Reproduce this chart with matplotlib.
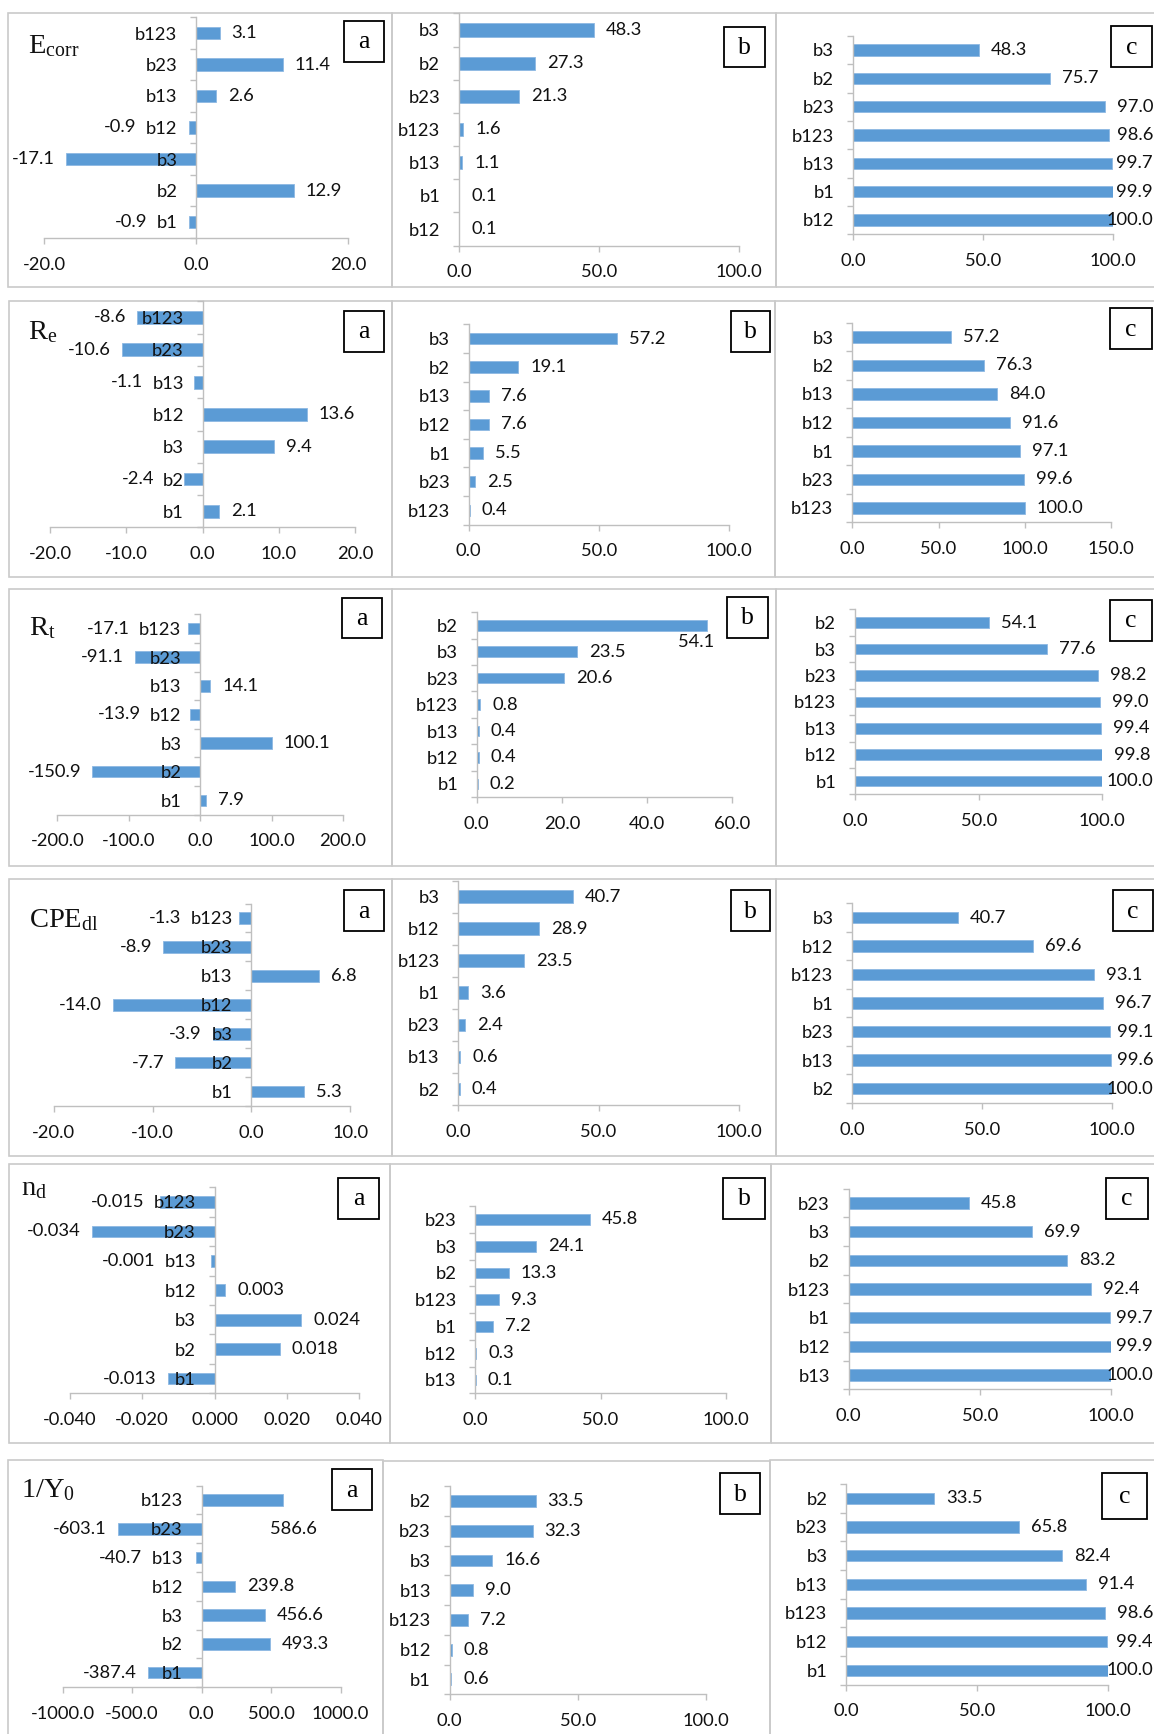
import numpy as np
import matplotlib
matplotlib.use("Agg")
import matplotlib.pyplot as plt
from matplotlib.patches import Rectangle

# ---------------- data ----------------
a_cats = ["b123", "b23", "b13", "b12", "b3", "b2", "b1"]

ecorr_a_vals = [3.1, 11.4, 2.6, -0.9, -17.1, 12.9, -0.9]
ecorr_b_cats = ["b3", "b2", "b23", "b123", "b13", "b1", "b12"]
ecorr_b_vals = [48.3, 27.3, 21.3, 1.6, 1.1, 0.1, 0.1]
ecorr_c_vals = [48.3, 75.7, 97.0, 98.6, 99.7, 99.9, 100.0]

re_a_vals = [-8.6, -10.6, -1.1, 13.6, 9.4, -2.4, 2.1]
re_b_cats = ["b3", "b2", "b13", "b12", "b1", "b23", "b123"]
re_b_vals = [57.2, 19.1, 7.6, 7.6, 5.5, 2.5, 0.4]
re_c_vals = [57.2, 76.3, 84.0, 91.6, 97.1, 99.6, 100.0]

rt_a_vals = [-17.1, -91.1, 14.1, -13.9, 100.1, -150.9, 7.9]
rt_b_cats = ["b2", "b3", "b23", "b123", "b13", "b12", "b1"]
rt_b_vals = [54.1, 23.5, 20.6, 0.8, 0.4, 0.4, 0.2]
rt_c_vals = [54.1, 77.6, 98.2, 99.0, 99.4, 99.8, 100.0]

cpe_a_vals = [-1.3, -8.9, 6.8, -14.0, -3.9, -7.7, 5.3]
cpe_b_cats = ["b3", "b12", "b123", "b1", "b23", "b13", "b2"]
cpe_b_vals = [40.7, 28.9, 23.5, 3.6, 2.4, 0.6, 0.4]
cpe_c_vals = [40.7, 69.6, 93.1, 96.7, 99.1, 99.6, 100.0]

nd_a_vals = [-0.015, -0.034, -0.001, 0.003, 0.024, 0.018, -0.013]
nd_b_cats = ["b23", "b3", "b2", "b123", "b1", "b12", "b13"]
nd_b_vals = [45.8, 24.1, 13.3, 9.3, 7.2, 0.3, 0.1]
nd_c_vals = [45.8, 69.9, 83.2, 92.4, 99.7, 99.9, 100.0]

y0_a_vals = [586.6, -603.1, -40.7, 239.8, 456.6, 493.3, -387.4]
y0_b_cats = ["b2", "b23", "b3", "b13", "b123", "b12", "b1"]
y0_b_vals = [33.5, 32.3, 16.6, 9.0, 7.2, 0.8, 0.6]
y0_c_vals = [33.5, 65.8, 82.4, 91.4, 98.6, 99.4, 100.0]

row_titles = [r"$\mathrm{E}_{\mathrm{corr}}$", r"$\mathrm{R}_{\mathrm{e}}$", r"$\mathrm{R}_{\mathrm{t}}$",
              r"$\mathrm{CPE}_{\mathrm{dl}}$", r"$\mathrm{n}_{\mathrm{d}}$", r"$\mathrm{1/Y}_{0}$"]
panel_letters = ["a", "b", "c"]

# ---------------- style / layout ----------------
W, H = 1154, 1734
BLUE = "#5B9BD5"
GRAY = "#BFBFBF"
FRAME = "#CACACA"
FS = 13.2

plt.rcParams["font.family"] = ["Lato", "DejaVu Sans"]
plt.rcParams["mathtext.fontset"] = "custom"
plt.rcParams["mathtext.rm"] = "Liberation Serif"
plt.rcParams["mathtext.it"] = "Liberation Serif:italic"
plt.rcParams["mathtext.bf"] = "Liberation Serif:bold"

# rows: (cats, vals, xlim, step, fmt) for a, b, c
rows = [
    [(a_cats, ecorr_a_vals, (-20, 20), 20, "{:.1f}"),
     (ecorr_b_cats, ecorr_b_vals, (0, 100), 50, "{:.1f}"),
     (ecorr_b_cats, ecorr_c_vals, (0, 100), 50, "{:.1f}")],
    [(a_cats, re_a_vals, (-20, 20), 10, "{:.1f}"),
     (re_b_cats, re_b_vals, (0, 100), 50, "{:.1f}"),
     (re_b_cats, re_c_vals, (0, 150), 50, "{:.1f}")],
    [(a_cats, rt_a_vals, (-200, 200), 100, "{:.1f}"),
     (rt_b_cats, rt_b_vals, (0, 60), 20, "{:.1f}"),
     (rt_b_cats, rt_c_vals, (0, 100), 50, "{:.1f}")],
    [(a_cats, cpe_a_vals, (-20, 10), 10, "{:.1f}"),
     (cpe_b_cats, cpe_b_vals, (0, 100), 50, "{:.1f}"),
     (cpe_b_cats, cpe_c_vals, (0, 100), 50, "{:.1f}")],
    [(a_cats, nd_a_vals, (-0.04, 0.04), 0.02, "{:.3f}"),
     (nd_b_cats, nd_b_vals, (0, 100), 50, "{:.1f}"),
     (nd_b_cats, nd_c_vals, (0, 100), 50, "{:.1f}")],
    [(a_cats, y0_a_vals, (-1000, 1000), 500, "{:.1f}"),
     (y0_b_cats, y0_b_vals, (0, 100), 50, "{:.1f}"),
     (y0_b_cats, y0_c_vals, (0, 100), 50, "{:.1f}")],
]

# plot-area geometry in pixels: (x at xmin, x at xmax, y of top bar centre, y of bottom bar centre)
geoms = [
    [(44, 348, 33, 222), (459, 739, 30, 229), (853, 1113, 50, 220)],
    [(50, 355.4, 317.5, 511.3), (468.8, 728.5, 338.6, 510.3), (852.2, 1111.2, 337, 508)],
    [(57.4, 343, 628.6, 800.3), (476.8, 732.2, 625.3, 783.9), (855, 1102.4, 622.6, 781.2)],
    [(53.7, 350.3, 918, 1091.6), (458.4, 738.8, 896.8, 1089), (852, 1112, 917.6, 1088.6)],
    [(70, 359, 1202, 1378.6), (475.4, 725.6, 1219.4, 1380), (848.5, 1111, 1203, 1375)],
    [(62.6, 340.7, 1500, 1672.7), (449.6, 706.4, 1501, 1679.4), (846.2, 1108.2, 1498.3, 1670.3)],
]
# panel frames (left, right, top, bottom) px
frames = [
    [(8, 392, 13, 287), (392, 776, 13, 287), (776, 1170, 13, 287)],
    [(9, 392, 301, 577), (392, 775, 301, 577), (775, 1170, 301, 577)],
    [(9, 392, 589, 866), (392, 776, 589, 866), (776, 1170, 589, 866)],
    [(9, 392, 879, 1156), (392, 776, 879, 1156), (776, 1170, 879, 1156)],
    [(9, 390, 1164, 1443), (390, 771, 1164, 1443), (771, 1170, 1164, 1443)],
    [(8, 383, 1460, 1750), (383, 770, 1461, 1750), (770, 1170, 1460, 1750)],
]
# letter boxes (x0, x1, y0, y1) px
boxes = [
    [(344, 384, 21, 62), (724, 765, 27, 67), (1111, 1152, 26, 67)],
    [(343.7, 384, 311, 352), (730.7, 770.4, 311, 352), (1110, 1151.6, 308, 349)],
    [(341.5, 382, 597.5, 638), (727, 767.5, 597, 638), (1110, 1151.6, 600, 640.7)],
    [(343.7, 384, 890, 931), (730.7, 770.4, 890, 931), (1113, 1153, 890, 931)],
    [(337.8, 379, 1177.5, 1218.7), (723.4, 764.5, 1177.5, 1218.7), (1106, 1148, 1177.5, 1218.7)],
    [(331.9, 372.3, 1469, 1510.4), (720.4, 760, 1473, 1514.4), (1102, 1147, 1473, 1518.8)],
]
# title positions (x, baseline y) px
title_pos = [(28, 53), (28, 339), (29, 635), (29, 927), (21, 1195), (21, 1497)]

fig = plt.figure(figsize=(W / 100, H / 100), dpi=100)
fig.patch.set_facecolor("white")

# frames
for r in range(6):
    for c in range(3):
        l, rr, t, b = frames[r][c]
        fig.add_artist(Rectangle((l / W, 1 - b / H), (rr - l) / W, (b - t) / H,
                                 transform=fig.transFigure, fill=False, ec=FRAME, lw=1.2, zorder=0))

panels = []
for r in range(6):
    for c in range(3):
        cats, vals, xlim, step, fmt = rows[r][c]
        x0, x1, yt, yb = geoms[r][c]
        n = len(cats)
        sp = (yb - yt) / (n - 1)
        top, bot = yt - sp / 2, yb + sp / 2
        ax = fig.add_axes([x0 / W, 1 - bot / H, (x1 - x0) / W, (bot - top) / H])
        ax.patch.set_alpha(0)
        y = np.arange(n)
        ax.barh(y, vals, height=0.4, color=BLUE, edgecolor="#8DB8E3", linewidth=0.6, zorder=1)
        ax.set_xlim(*xlim)
        ax.set_ylim(n - 0.5, -0.5)
        nt = int(round((xlim[1] - xlim[0]) / step)) + 1
        ticks = np.round(np.linspace(xlim[0], xlim[1], nt), 6)
        ax.set_xticks(ticks)
        ax.set_xticklabels([fmt.format(v + 0.0) for v in ticks])
        ax.set_yticks(y)
        ax.set_yticklabels(cats)
        ax.set_yticks(np.arange(n + 1) - 0.5, minor=True)
        for s in ("top", "right"):
            ax.spines[s].set_visible(False)
        ax.spines["left"].set_position(("data", 0))
        ax.spines["left"].set_color(GRAY)
        ax.spines["bottom"].set_color(GRAY)
        ax.spines["left"].set_linewidth(1.0)
        ax.spines["bottom"].set_linewidth(1.0)
        ax.tick_params(axis="y", which="major", length=0, pad=13.5, labelsize=FS, labelcolor="#111111")
        ax.tick_params(axis="y", which="minor", length=4.5, width=1.0, color=GRAY, direction="out")
        ax.tick_params(axis="x", which="major", length=4.5, width=1.0, color=GRAY, direction="out",
                       pad=9, labelsize=FS, labelcolor="#111111")
        ax.tick_params(axis="x", which="minor", length=0)
        panels.append((r, c, ax, cats, vals, fmt))

# titles
for r in range(6):
    x, yb = title_pos[r]
    fig.text(x / W, 1 - yb / H, row_titles[r], fontsize=20.5, va="baseline", ha="left", color="#111111")

# letter boxes
for r in range(6):
    for c in range(3):
        bx0, bx1, by0, by1 = boxes[r][c]
        fig.add_artist(Rectangle((bx0 / W, 1 - by1 / H), (bx1 - bx0) / W, (by1 - by0) / H,
                                 transform=fig.transFigure, fc="white", ec="black", lw=1.3, zorder=3))
        fig.text((bx0 + bx1) / 2 / W, 1 - ((by0 + by1) / 2 + 1) / H, panel_letters[c],
                 family="Liberation Serif", fontsize=18.5, ha="center", va="center", zorder=4)

# data labels (positions derived from bar ends through the axes transforms)
fig.canvas.draw()
renderer = fig.canvas.get_renderer()
for (r, c, ax, cats, vals, fmt) in panels:
    right_bound = min(frames[r][c][1], W) - 1
    inv = ax.transData.inverted()
    ylabs = ax.get_yticklabels()
    for i, v in enumerate(vals):
        ex, ey = ax.transData.transform((v, i))
        t = ax.text(0, 0, fmt.format(v), fontsize=FS, color="#111111", va="center", ha="left",
                    clip_on=False, zorder=5)
        w = t.get_window_extent(renderer).width
        if r == 2 and c == 1 and i == 0:
            px = ex + 7 - w
            py = ey - 17
        elif r == 5 and c == 0 and i == 0:
            px = ex - 13
            _, py = ax.transData.transform((v, 1))
        elif v >= 0:
            px = ex + 12
            if px + w > right_bound:
                px = right_bound - w
            py = ey
        else:
            tl = ylabs[i].get_window_extent(renderer).x0
            right = min(ex - 11, tl - 9)
            px = right - w
            py = ey
        dx, dy = inv.transform((px, py))
        t.set_position((dx, dy))

fig.savefig("out.png", dpi=100, facecolor="white")
